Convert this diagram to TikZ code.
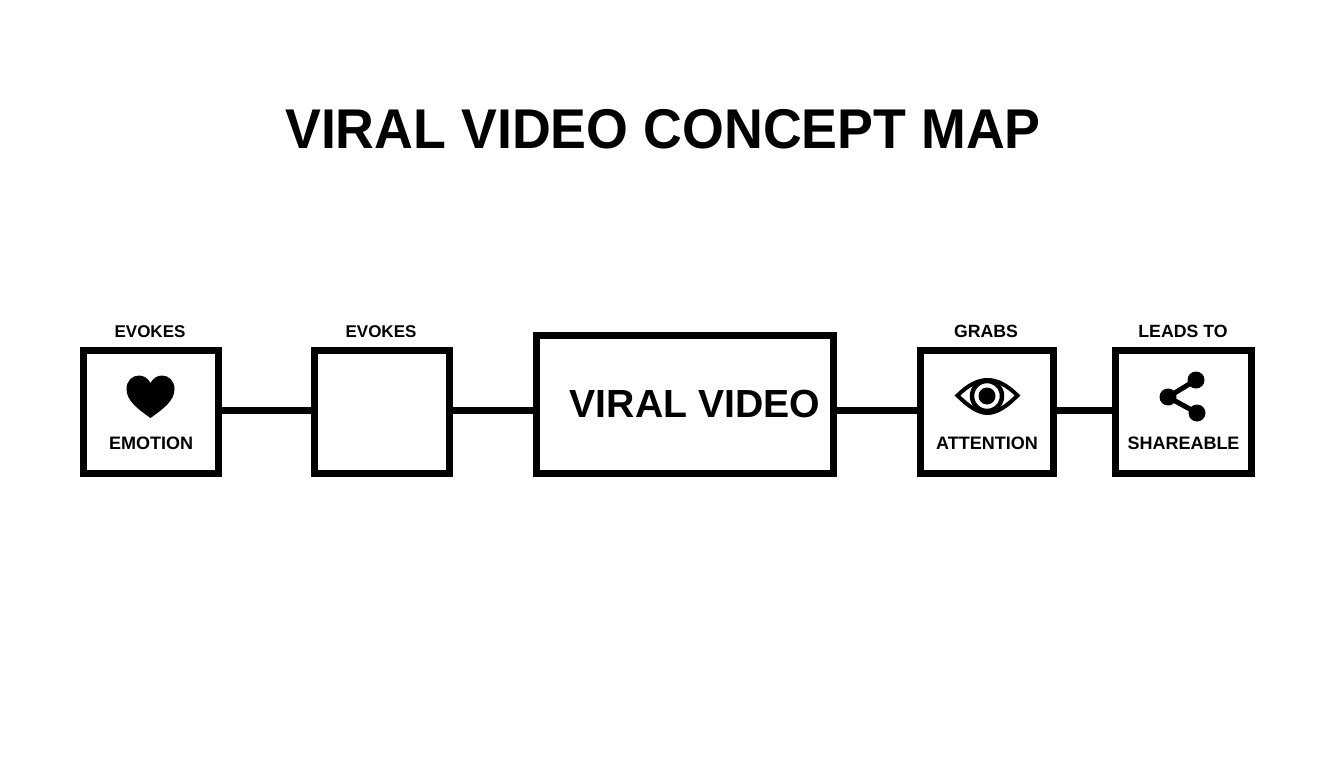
\documentclass[tikz,border=0pt]{standalone}
\usepackage{fontspec}
\setmainfont{Liberation Sans}[BoldFont={Liberation Sans Bold}]
\tikzset{
  box/.style={draw=black,line width=7pt,fill=white,inner sep=0pt,minimum width=#1,minimum height=123pt},
  link/.style={draw=black,line width=7pt},
  reltext/.style={font=\fontsize{17}{20}\selectfont\bfseries,inner sep=0pt,anchor=base},
  reltextwide/.style={font=\fontsize{17.7}{20}\selectfont\bfseries,inner sep=0pt,anchor=base},
  boxtext/.style={font=\fontsize{18}{21}\selectfont\bfseries,inner sep=0pt,anchor=base},
}
\begin{document}
\begin{tikzpicture}[x=1pt,y=-1pt]
\useasboundingbox (0,0) rectangle (1344,768);
\fill[white] (0,0) rectangle (1344,768);
\node[font=\fontsize{56}{60}\selectfont\bfseries,inner sep=0pt,anchor=base] (title) at (663,148) {\scalebox{.96}[1]{VIRAL VIDEO CONCEPT MAP}};
\node[box=135pt] (b1) at (151,412) {};
\node[box=135pt] (b2) at (382,412) {};
\node[box=297pt,minimum height=138pt] (b3) at (685,404.5) {};
\node[box=133pt] (b4) at (987,412) {};
\node[box=136pt] (b5) at (1183.5,412) {};
\coordinate (y1) at (0,410);
\draw[link] (b1.east |- y1) -- (b2.west |- y1);
\draw[link] (b2.east |- y1) -- (b3.west |- y1);
\draw[link] (b3.east |- y1) -- (b4.west |- y1);
\draw[link] (b4.east |- y1) -- (b5.west |- y1);
\node[reltext] (l1) at (150,337) {EVOKES};
\node[reltext] (l2) at (381,337) {EVOKES};
\node[reltextwide] (l4) at (986,337) {GRABS};
\node[reltextwide] (l5) at (1183,337) {LEADS TO};
\node[boxtext] (n1) at (151,449) {EMOTION};
\node[boxtext] (n4) at (987,449) {ATTENTION};
\node[boxtext] (n5) at (1183.5,449) {SHAREABLE};
\node[font=\fontsize{39.2}{44}\selectfont\bfseries,inner sep=0pt,anchor=base] (n3) at (695,417) {VIRAL VIDEO};
% heart
\fill (150.5,418) .. controls (138,409) and (126.5,401) .. (126.5,389)
  .. controls (126.5,381) and (132,375.5) .. (139,375.5)
  .. controls (144,375.5) and (148,378.5) .. (150.5,383)
  .. controls (153,378.5) and (157,375.5) .. (162,375.5)
  .. controls (169,375.5) and (174.5,381) .. (174.5,389)
  .. controls (174.5,401) and (163,409) .. (150.5,418) -- cycle;
% eye
\draw[line width=4pt,line join=miter] (957.5,395.5) .. controls (968,385) and (978,380) .. (987.5,380)
  .. controls (997,380) and (1007,385) .. (1017.5,395.5)
  .. controls (1007,406) and (997,413) .. (987.5,413)
  .. controls (978,413) and (968,406) .. (957.5,395.5) -- cycle;
\draw[line width=4.5pt] (987,396) circle (15);
\fill (987,396) circle (8.5);
% share
\draw[line width=5pt] (1196,380) -- (1168,397) -- (1197,413);
\fill (1196,380) circle (8.5);
\fill (1168,397) circle (8.5);
\fill (1197,413) circle (8.5);
\end{tikzpicture}
\end{document}
